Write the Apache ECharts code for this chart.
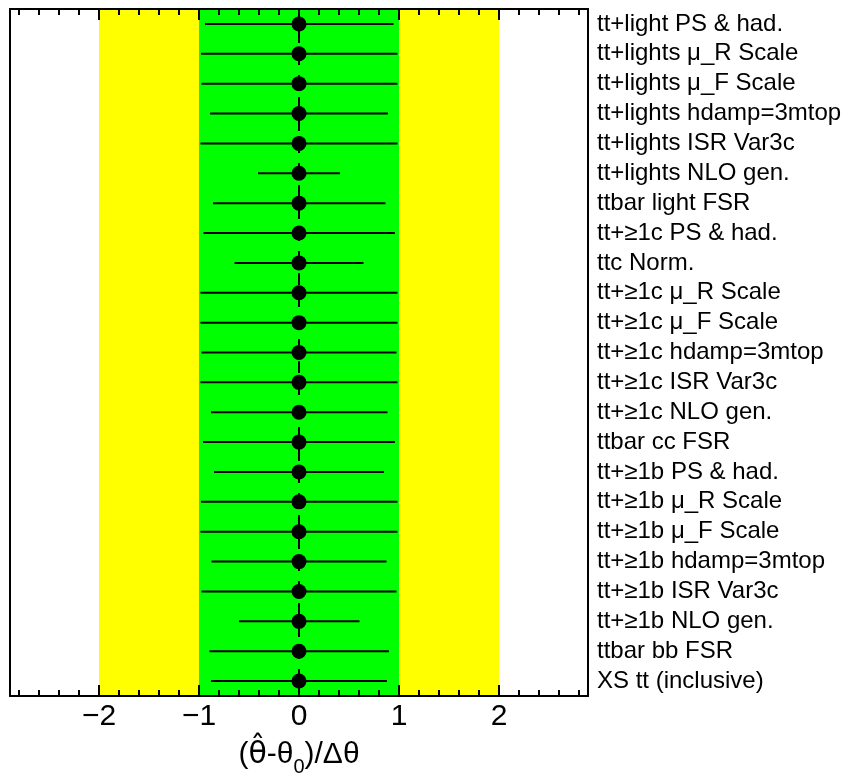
<!DOCTYPE html>
<html>
<head>
<meta charset="utf-8">
<script src="https://cdn.jsdelivr.net/npm/echarts@6/dist/echarts.min.js"></script>
<style>
html,body{margin:0;padding:0;background:#fff;}
#chart{width:855px;height:778px;}
</style>
</head>
<body>
<div id="chart"></div>
<script>
var labels = [
  "tt+light PS & had.",
  "tt+lights \u03bc_R Scale",
  "tt+lights \u03bc_F Scale",
  "tt+lights hdamp=3mtop",
  "tt+lights ISR Var3c",
  "tt+lights NLO gen.",
  "ttbar light FSR",
  "tt+\u22651c PS & had.",
  "ttc Norm.",
  "tt+\u22651c \u03bc_R Scale",
  "tt+\u22651c \u03bc_F Scale",
  "tt+\u22651c hdamp=3mtop",
  "tt+\u22651c ISR Var3c",
  "tt+\u22651c NLO gen.",
  "ttbar cc FSR",
  "tt+\u22651b PS & had.",
  "tt+\u22651b \u03bc_R Scale",
  "tt+\u22651b \u03bc_F Scale",
  "tt+\u22651b hdamp=3mtop",
  "tt+\u22651b ISR Var3c",
  "tt+\u22651b NLO gen.",
  "ttbar bb FSR",
  "XS tt (inclusive)"
];
var pulls   = [0,0,0,0,0,0,0,0,0,0,0,0,0,0,0,0,0,0,0,0,0,0,0];
var errDown = [0.94,0.98,0.975,0.89,0.985,0.41,0.86,0.955,0.645,0.985,0.985,0.975,0.985,0.88,0.96,0.85,0.98,0.985,0.875,0.975,0.60,0.895,0.88];
var errUp   = [0.945,0.985,0.985,0.89,0.985,0.41,0.865,0.96,0.645,0.985,0.985,0.975,0.985,0.885,0.96,0.85,0.985,0.985,0.875,0.975,0.605,0.90,0.88];
var bandLow  = [-2, -1];
var bandHigh = [2, 1];
var bandColors = ['#ffff00', '#00ff00'];
var refLine = [0];
var majorTicks = [-2,-1,0,1,2];
var minorTicks = [-2.8,-2.6,-2.4,-2.2,-2.0,-1.8,-1.6,-1.4,-1.2,-1.0,-0.8,-0.6,-0.4,-0.2,0,0.2,0.4,0.6,0.8,1.0,1.2,1.4,1.6,1.8,2.0,2.2,2.4,2.6,2.8];
var xMin = -2.89, xMax = 2.89;

var font = 'Liberation Sans, Arial, Helvetica, sans-serif';
var chart = echarts.init(document.getElementById('chart'), null, {renderer:'canvas'});

function xAx(pos, ticks, len, showLine, showLabel){
  return {
    type:'value', position:pos, min:xMin, max:xMax, z:10,
    axisLine:{show:showLine, onZero:false, lineStyle:{color:'#000', width:2}},
    axisTick:{show:true, inside:true, length:len, customValues:ticks, lineStyle:{color:'#000', width:2}},
    axisLabel:{show:showLabel, customValues:majorTicks, fontFamily:font, fontSize:30, color:'#000', margin:6,
      formatter:function(v){ return v < 0 ? '\u2212' + Math.abs(v) : String(v); }},
    splitLine:{show:false}
  };
}

var xAxes = [
  xAx('bottom', majorTicks, 11, true, true),
  xAx('bottom', minorTicks, 6, false, false),
  xAx('top', majorTicks, 11, true, false),
  xAx('top', minorTicks, 6, false, false)
];
xAxes[0].name = '{a|(}{h|\u03b8\u0302}{a|-\u03b8}{s|0}{a|)/\u0394\u03b8}';
xAxes[0].nameLocation = 'middle';
xAxes[0].nameGap = 44;
xAxes[0].nameTextStyle = {
  color:'#000', fontFamily:font,
  rich:{
    a:{fontSize:30, fontFamily:font, color:'#000'},
    h:{fontSize:30, fontFamily:'DejaVu Sans', color:'#000'},
    s:{fontSize:20, fontFamily:font, color:'#000', verticalAlign:'bottom', padding:[0,0,-7,0]}
  }
};

var option = {
  backgroundColor:'#fff',
  animation:false,
  grid:{left:10, right:267, top:9, bottom:82, containLabel:false, outerBoundsMode:'none'},
  xAxis: xAxes,
  yAxis:[
    {type:'category', data:labels, inverse:true, position:'right', z:10,
     axisLine:{show:true, onZero:false, lineStyle:{color:'#000', width:2}},
     axisTick:{show:false},
     axisLabel:{interval:0, fontFamily:font, fontSize:24, color:'#000', margin:9, align:'left'},
     splitLine:{show:false}},
    {type:'category', data:labels, inverse:true, position:'left', z:10,
     axisLine:{show:true, onZero:false, lineStyle:{color:'#000', width:2}},
     axisTick:{show:false}, axisLabel:{show:false}, splitLine:{show:false}}
  ],
  series:[
    {
      type:'custom', xAxisIndex:0, yAxisIndex:0, z:1,
      data: bandLow.map(function(v,i){ return [v, bandHigh[i], i]; }),
      renderItem:function(params, api){
        var cs = params.coordSys;
        var i = api.value(2);
        var x1 = api.coord([api.value(0), 0])[0];
        var x2 = api.coord([api.value(1), 0])[0];
        return {type:'rect', shape:{x:x1, y:cs.y, width:x2-x1, height:cs.height},
                style:{fill:bandColors[i]}};
      }
    },
    {
      type:'custom', xAxisIndex:0, yAxisIndex:0, z:2,
      data: refLine.map(function(v){ return [v]; }),
      renderItem:function(params, api){
        var cs = params.coordSys;
        var x = api.coord([api.value(0), 0])[0];
        return {type:'line', shape:{x1:x, y1:cs.y, x2:x, y2:cs.y+cs.height},
                style:{stroke:'#000', lineWidth:2, lineDash:[12,10]}};
      }
    },
    {
      type:'custom', xAxisIndex:0, yAxisIndex:0, z:3,
      data: labels.map(function(l,i){ return [pulls[i]-errDown[i], pulls[i]+errUp[i], i]; }),
      renderItem:function(params, api){
        var y = api.value(2);
        var p1 = api.coord([api.value(0), y]);
        var p2 = api.coord([api.value(1), y]);
        return {type:'line', shape:{x1:p1[0], y1:p1[1], x2:p2[0], y2:p2[1]}, style:{stroke:'#000', lineWidth:2}};
      }
    },
    {
      type:'scatter', xAxisIndex:0, yAxisIndex:0, z:5,
      symbol:'circle', symbolSize:15,
      itemStyle:{color:'#000', opacity:1},
      data: labels.map(function(l,i){ return [pulls[i], i]; })
    }
  ]
};
chart.setOption(option);
</script>
</body>
</html>
